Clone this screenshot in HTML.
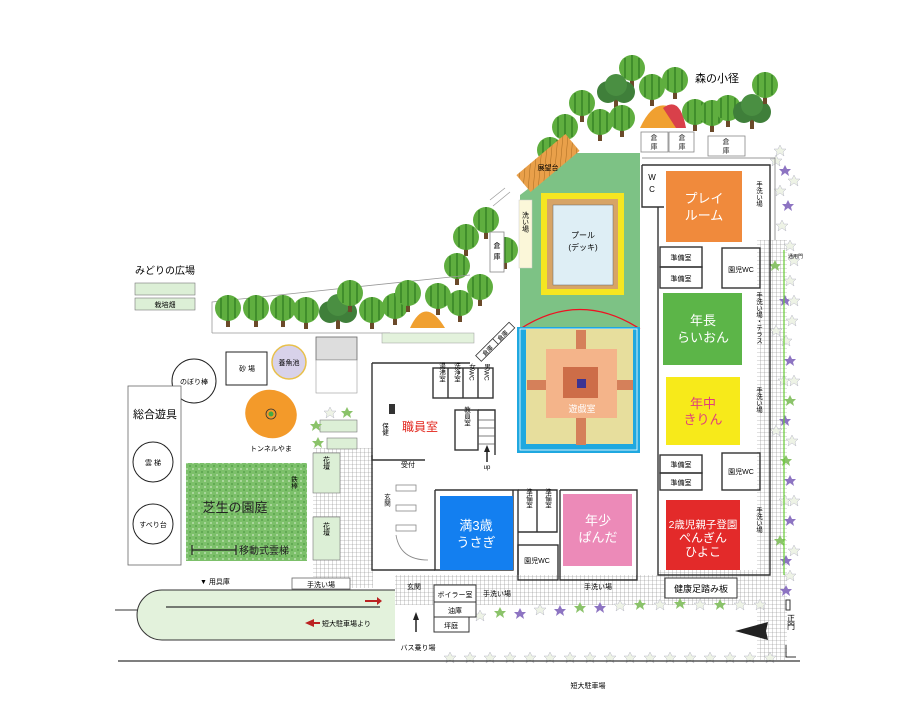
<!DOCTYPE html>
<html><head><meta charset="utf-8"><style>
html,body{margin:0;padding:0;background:#fff}
svg{display:block}
text{font-family:"Liberation Sans","Noto Sans CJK JP",sans-serif;}
</style></head><body>
<svg width="900" height="719" viewBox="0 0 900 719" xmlns="http://www.w3.org/2000/svg">
<defs>
<pattern id="grid" width="4" height="4" patternUnits="userSpaceOnUse"><rect width="4" height="4" fill="#fff"/><path d="M0 0H4M0 0V4" stroke="#888" stroke-width="0.6"/></pattern>
<pattern id="lawn" width="6" height="6" patternUnits="userSpaceOnUse"><rect width="6" height="6" fill="#7cc06a"/><circle cx="1" cy="1" r="0.9" fill="#c9e7bf"/><circle cx="4" cy="4" r="0.9" fill="#4f9a44"/></pattern>
<pattern id="deck" width="5" height="5" patternUnits="userSpaceOnUse" patternTransform="rotate(45)"><rect width="5" height="5" fill="#e9a04a"/><path d="M0 0V5" stroke="#a86a20" stroke-width="1"/></pattern>
<g id="tree"><rect x="-2" y="4" width="4" height="15" fill="#6b4a2a"/><circle r="13" fill="#5fae3f"/><path d="M-7 -10V10M0 -13V13M7 -10V10" stroke="#3e8a2a" stroke-width="1.8"/></g>
<g id="bush"><rect x="-2" y="4" width="4" height="13" fill="#6b4a2a"/><circle cx="-8" r="11" fill="#3f7f3a"/><circle cx="8" r="11" fill="#3f7f3a"/><circle cy="-7" r="11" fill="#4a8f42"/></g>
<g id="leaf"><polygon points="0,-5 2,-1 6,-1 3,2 4,6 0,3 -4,6 -3,2 -6,-1 -2,-1" fill="#eef3e6" stroke="#aab" stroke-width="0.4"/></g>
<g id="leafp"><polygon points="0,-5 2,-1 6,-1 3,2 4,6 0,3 -4,6 -3,2 -6,-1 -2,-1" fill="#8d74c2"/></g>
<g id="leafg"><polygon points="0,-5 2,-1 6,-1 3,2 4,6 0,3 -4,6 -3,2 -6,-1 -2,-1" fill="#8bc36a"/></g>
</defs>

<rect x="757" y="240" width="30" height="420" fill="url(#grid)"/>
<rect x="395" y="575" width="390" height="30" fill="url(#grid)"/>
<rect x="313" y="448" width="60" height="140" fill="url(#grid)"/>
<rect x="658" y="570" width="100" height="35" fill="url(#grid)"/>

<g>
<use href="#leaf" x="780" y="150"/><use href="#leafp" x="785" y="170"/><use href="#leaf" x="780" y="190"/><use href="#leafp" x="788" y="205"/><use href="#leaf" x="782" y="225"/><use href="#leaf" x="790" y="245"/><use href="#leafg" x="775" y="265"/><use href="#leaf" x="790" y="280"/><use href="#leafp" x="785" y="300"/><use href="#leaf" x="792" y="320"/><use href="#leaf" x="786" y="340"/><use href="#leafp" x="790" y="360"/><use href="#leaf" x="784" y="380"/><use href="#leafg" x="790" y="400"/><use href="#leafp" x="785" y="420"/><use href="#leaf" x="792" y="440"/><use href="#leafg" x="786" y="460"/><use href="#leafp" x="790" y="480"/><use href="#leaf" x="785" y="500"/><use href="#leafp" x="790" y="520"/><use href="#leafg" x="780" y="540"/><use href="#leafp" x="786" y="560"/><use href="#leaf" x="790" y="575"/><use href="#leafp" x="786" y="590"/>
<use href="#leaf" x="776" y="160"/><use href="#leaf" x="794" y="180"/><use href="#leaf" x="794" y="260"/><use href="#leaf" x="794" y="300"/><use href="#leaf" x="776" y="330"/><use href="#leaf" x="794" y="380"/><use href="#leaf" x="776" y="430"/><use href="#leaf" x="794" y="500"/><use href="#leaf" x="794" y="550"/>
</g>
<line x1="784" y1="250" x2="784" y2="575" stroke="#6c3" stroke-width="1.2"/>
<g>
<use href="#leafg" x="460" y="618"/><use href="#leaf" x="480" y="615"/><use href="#leafg" x="500" y="612"/><use href="#leafp" x="520" y="613"/><use href="#leaf" x="540" y="609"/><use href="#leafp" x="560" y="610"/><use href="#leafg" x="580" y="607"/><use href="#leafp" x="600" y="607"/><use href="#leaf" x="620" y="605"/><use href="#leafg" x="640" y="604"/><use href="#leaf" x="660" y="604"/><use href="#leafg" x="680" y="603"/><use href="#leaf" x="700" y="604"/><use href="#leafg" x="720" y="604"/><use href="#leaf" x="740" y="604"/><use href="#leaf" x="760" y="604"/>
</g>
<g>
<use href="#leaf" x="450" y="657"/><use href="#leaf" x="470" y="657"/><use href="#leaf" x="490" y="657"/><use href="#leaf" x="510" y="657"/><use href="#leaf" x="530" y="657"/><use href="#leaf" x="550" y="657"/><use href="#leaf" x="570" y="657"/><use href="#leaf" x="590" y="657"/><use href="#leaf" x="610" y="657"/><use href="#leaf" x="630" y="657"/><use href="#leaf" x="650" y="657"/><use href="#leaf" x="670" y="657"/><use href="#leaf" x="690" y="657"/><use href="#leaf" x="710" y="657"/><use href="#leaf" x="730" y="657"/><use href="#leaf" x="750" y="657"/><use href="#leaf" x="770" y="657"/>
</g>
<line x1="118" y1="661" x2="800" y2="661" stroke="#333" stroke-width="1.2"/>
<polygon points="735,631 768,622 766,631 768,640" fill="#222"/>
<path d="M786 600h4v10h-4z" fill="none" stroke="#333"/><path d="M786 645v12h10" fill="none" stroke="#333"/>
<text x="791" y="614" font-size="8" writing-mode="tb">正門</text>

<!-- top trees -->
<use href="#tree" x="632" y="68"/><use href="#bush" x="616" y="92"/><use href="#tree" x="652" y="87"/><use href="#tree" x="675" y="80"/>
<use href="#tree" x="582" y="103"/><use href="#tree" x="600" y="122"/><use href="#tree" x="622" y="118"/><use href="#tree" x="565" y="127"/><use href="#tree" x="550" y="150"/>
<path d="M640 128 Q655 95 675 110 L686 128 Z" fill="#f0a030"/><path d="M663 108 Q680 95 686 128 L676 128Z" fill="#d9404a"/>
<use href="#tree" x="695" y="112"/><use href="#tree" x="712" y="113"/><use href="#tree" x="728" y="108"/><use href="#bush" x="752" y="112"/><use href="#tree" x="765" y="85"/>
<text x="695" y="82" font-size="11">森の小径</text>
<g fill="#fff" stroke="#888" stroke-width="0.8"><rect x="641" y="132" width="27" height="20"/><rect x="669" y="132" width="25" height="20"/><rect x="708" y="136" width="37" height="20"/></g>
<g font-size="7" fill="#333" text-anchor="middle"><text x="654" y="140">倉</text><text x="654" y="149">庫</text><text x="682" y="140">倉</text><text x="682" y="149">庫</text><text x="726" y="144">倉</text><text x="726" y="153">庫</text></g>
<path d="M642 158H775V240" fill="none" stroke="#999" stroke-width="1"/>

<use href="#tree" x="486" y="220"/><use href="#tree" x="466" y="237"/><use href="#tree" x="480" y="287"/><use href="#tree" x="457" y="266"/><use href="#tree" x="505" y="250"/>
<line x1="490" y1="200" x2="505" y2="188" stroke="#999" stroke-width="0.7"/><line x1="493" y1="206" x2="510" y2="192" stroke="#999" stroke-width="0.7"/>
<rect x="490" y="232" width="14" height="40" fill="#fff" stroke="#888" stroke-width="0.8"/>
<text x="497" y="248" font-size="7" text-anchor="middle">倉</text><text x="497" y="259" font-size="7" text-anchor="middle">庫</text>

<polygon points="520,195 575,153 640,153 640,330 520,330" fill="#7dc285"/>
<rect x="516" y="152" width="64" height="22" fill="url(#deck)" transform="rotate(-40 548 163)"/>
<text x="548" y="170" font-size="7" text-anchor="middle">展望台</text>
<rect x="519" y="200" width="13" height="68" fill="#fbf7d9" stroke="#ccc" stroke-width="0.5"/>
<text x="525" y="222" font-size="7" text-anchor="middle" writing-mode="tb">洗い場</text>
<rect x="541" y="193" width="83" height="102" fill="#f5e621"/>
<rect x="547" y="199" width="71" height="90" fill="#d7a466"/>
<rect x="553" y="205" width="60" height="80" fill="#deeef5" stroke="#666" stroke-width="0.5"/>
<text x="583" y="238" font-size="8" text-anchor="middle">プール</text><text x="583" y="250" font-size="8" text-anchor="middle">(デッキ)</text>
<path d="M520 329 Q580 290 640 329" fill="none" stroke="#e12" stroke-width="1.2"/>

<rect x="517" y="327" width="123" height="126" fill="#1fa8e0"/>
<rect x="520" y="329" width="117" height="121" fill="none" stroke="#fff" stroke-width="0.8"/>
<rect x="526" y="329" width="107" height="115" fill="#e7de9d"/>
<rect x="576" y="330" width="10" height="115" fill="#d5805a"/>
<rect x="527" y="380" width="106" height="10" fill="#d5805a"/>
<rect x="546" y="349" width="71" height="69" fill="#f4b48a"/>
<rect x="563" y="367" width="35" height="31" fill="#cd6d48"/>
<rect x="577" y="379" width="9" height="9" fill="#3b3392"/>
<text x="582" y="412" font-size="9" fill="#fff" text-anchor="middle">遊戯室</text>
<g transform="rotate(-45 502 335)"><rect x="488" y="331" width="28" height="8" fill="#fff" stroke="#333" stroke-width="0.8"/><text x="502" y="338" font-size="6" text-anchor="middle">倉庫</text></g>
<g transform="rotate(-45 487 350)"><rect x="475" y="346" width="24" height="8" fill="#fff" stroke="#333" stroke-width="0.8"/><text x="487" y="353" font-size="6" text-anchor="middle">倉庫</text></g>

<g fill="none" stroke="#333" stroke-width="1.4">
<path d="M642 165H770V490"/><path d="M642 165V207H664"/><path d="M658 207V575H770V490"/>
<rect x="660" y="247" width="42" height="20"/><rect x="660" y="267" width="42" height="21"/><rect x="722" y="248" width="38" height="40"/>
<rect x="660" y="455" width="42" height="18"/><rect x="660" y="473" width="42" height="17"/><rect x="722" y="453" width="38" height="37"/>
</g>
<rect x="643" y="166" width="21" height="40" fill="#fff"/>
<text x="652" y="180" font-size="8" text-anchor="middle">W</text><text x="652" y="192" font-size="8" text-anchor="middle">C</text>
<rect x="666" y="171" width="76" height="71" fill="#f08a3c"/>
<text x="704" y="203" font-size="13" fill="#fff" text-anchor="middle">プレイ</text><text x="704" y="220" font-size="13" fill="#fff" text-anchor="middle">ルーム</text>
<g font-size="7" text-anchor="middle"><text x="681" y="260">準備室</text><text x="681" y="281">準備室</text><text x="741" y="272">園児WC</text>
<text x="681" y="467">準備室</text><text x="681" y="485">準備室</text><text x="741" y="474">園児WC</text></g>
<rect x="663" y="293" width="79" height="72" fill="#5cb548"/>
<text x="703" y="325" font-size="13" fill="#fff" text-anchor="middle">年長</text><text x="703" y="342" font-size="13" fill="#fff" text-anchor="middle">らいおん</text>
<rect x="666" y="377" width="74" height="68" fill="#f7ea1a"/>
<text x="703" y="408" font-size="13" fill="#e0407a" text-anchor="middle">年中</text><text x="703" y="424" font-size="13" fill="#e0407a" text-anchor="middle">きりん</text>
<rect x="666" y="500" width="74" height="70" fill="#e32a2a"/>
<text x="703" y="528" font-size="10.5" fill="#fff" text-anchor="middle">2歳児親子登園</text><text x="703" y="542" font-size="12" fill="#fff" text-anchor="middle">ぺんぎん</text><text x="703" y="556" font-size="12" fill="#fff" text-anchor="middle">ひよこ</text>
<rect x="665" y="578" width="72" height="20" fill="#fff" stroke="#333" stroke-width="1"/>
<text x="701" y="592" font-size="9" text-anchor="middle">健康足踏み板</text>
<g font-size="6.5" text-anchor="middle" writing-mode="tb"><text x="758" y="194">手洗い場</text><text x="758" y="318">手洗い場・テラス</text><text x="758" y="400">手洗い場</text><text x="758" y="520">手洗い場</text></g>
<text x="788" y="258" font-size="5">通用門</text>

<g fill="none" stroke="#333" stroke-width="1.4">
<path d="M372 363H470"/><path d="M372 363V460H425"/><path d="M372 455V570H435"/>
<rect x="433" y="368" width="60" height="30"/><path d="M448 368V398M463 368V398M478 368V398"/>
<rect x="455" y="410" width="23" height="40"/><path d="M478 410H495V455"/>
<path d="M435 490H518V575"/><path d="M513 490V570H435V490"/>
<path d="M518 490H557V532H518M537 490V532"/><rect x="518" y="545" width="40" height="35"/>
<path d="M560 490H637V580H560V490"/>
</g>
<g stroke="#555" stroke-width="0.8" fill="none"><path d="M478 420H495M478 428H495M478 436H495M478 444H495"/></g>
<path d="M487 462V450" stroke="#222" stroke-width="1.5"/><polygon points="484,452 487,445 490,452" fill="#222"/>
<text x="487" y="469" font-size="6" text-anchor="middle">up</text>
<g font-size="6.5" text-anchor="middle" writing-mode="tb"><text x="441" y="372">湯沸室</text><text x="456" y="372">洗浄室</text><text x="471" y="372">女WC</text><text x="486" y="372">男WC</text><text x="466" y="416">教員室</text><text x="384" y="429">保健</text><text x="386" y="500">玄関</text><text x="528" y="498">準備室</text><text x="547" y="498">準備室</text></g>
<text x="420" y="431" font-size="12" fill="#e2231a" text-anchor="middle">職員室</text>
<rect x="389" y="404" width="6" height="10" fill="#333"/>
<text x="408" y="467" font-size="7" text-anchor="middle">受付</text>
<g fill="#fff" stroke="#888" stroke-width="0.8"><rect x="396" y="485" width="20" height="6"/><rect x="396" y="505" width="20" height="6"/><rect x="396" y="525" width="20" height="6"/></g>
<path d="M396 535 Q400 560 428 560" fill="none" stroke="#888" stroke-width="0.8"/>
<rect x="440" y="496" width="73" height="74" fill="#137ff0"/>
<text x="476" y="530" font-size="13" fill="#fff" text-anchor="middle">満3歳</text><text x="476" y="547" font-size="13" fill="#fff" text-anchor="middle">うさぎ</text>
<text x="537" y="563" font-size="7" text-anchor="middle">園児WC</text>
<rect x="563" y="494" width="69" height="72" fill="#ec8ab8"/>
<text x="598" y="525" font-size="13" fill="#fff" text-anchor="middle">年少</text><text x="598" y="542" font-size="13" fill="#fff" text-anchor="middle">ぱんだ</text>
<text x="598" y="589" font-size="7" text-anchor="middle">手洗い場</text>
<g fill="#fff" stroke="#333" stroke-width="1"><rect x="434" y="585" width="42" height="17"/><rect x="434" y="602" width="42" height="15"/><rect x="434" y="617" width="35" height="15"/></g>
<g font-size="7" text-anchor="middle"><text x="455" y="597">ボイラー室</text><text x="455" y="613">油庫</text><text x="451" y="628">坪庭</text><text x="497" y="596">手洗い場</text><text x="414" y="589">玄関</text><text x="418" y="650">バス乗り場</text></g>
<path d="M416 632V618" stroke="#222" stroke-width="1.5"/><polygon points="413,620 416,612 419,620" fill="#222"/>

<path d="M395 590H162A25 25 0 0 0 162 640H395" fill="#e3f2dc" stroke="#333" stroke-width="1"/>
<line x1="115" y1="610" x2="137" y2="610" stroke="#333"/>
<line x1="166" y1="607" x2="380" y2="607" stroke="#333" stroke-width="1.2"/>
<polygon points="365,600 377,600 377,597 382,601 377,605 377,602 365,602" fill="#b22"/>
<polygon points="305,623 314,619 314,622 320,622 320,624 314,624 314,627" fill="#b22"/>
<text x="322" y="626" font-size="7">短大駐車場より</text>
<text x="200" y="584" font-size="7">▼ 用具庫</text>
<rect x="292" y="578" width="58" height="11" fill="#fff" stroke="#666" stroke-width="0.8"/>
<text x="321" y="587" font-size="7" text-anchor="middle">手洗い場</text>
<text x="588" y="688" font-size="7" text-anchor="middle">短大駐車場</text>

<text x="135" y="274" font-size="10">みどりの広場</text>
<rect x="135" y="283" width="60" height="12" fill="#dcefd6" stroke="#777" stroke-width="0.6"/>
<rect x="135" y="298" width="60" height="12" fill="#dcefd6" stroke="#777" stroke-width="0.6"/>
<text x="165" y="307" font-size="7" text-anchor="middle">栽培畑</text>
<path d="M212 333V302L470 275" fill="none" stroke="#999" stroke-width="0.8"/>
<line x1="212" y1="333" x2="390" y2="333" stroke="#999" stroke-width="0.8"/>
<use href="#tree" x="228" y="308"/><use href="#tree" x="256" y="308"/><use href="#tree" x="283" y="308"/><use href="#tree" x="306" y="310"/><use href="#bush" x="338" y="312"/><use href="#tree" x="372" y="310"/><use href="#tree" x="350" y="293"/><use href="#tree" x="395" y="306"/><use href="#tree" x="408" y="293"/><use href="#tree" x="438" y="296"/><use href="#tree" x="460" y="303"/>
<path d="M410 328 Q425 295 445 328Z" fill="#f0a030"/>
<rect x="382" y="333" width="92" height="10" fill="#e3f2dc" stroke="#999" stroke-width="0.5"/>
<rect x="316" y="337" width="41" height="23" fill="#ddd" stroke="#666" stroke-width="0.8"/>
<rect x="316" y="360" width="41" height="33" fill="#fff" stroke="#999" stroke-width="0.6"/>
<circle cx="194" cy="381" r="22" fill="#fff" stroke="#222" stroke-width="1"/>
<text x="194" y="384" font-size="7" text-anchor="middle">のぼり棒</text>
<rect x="226" y="352" width="41" height="33" fill="#fff" stroke="#222" stroke-width="1"/>
<text x="247" y="371" font-size="7" text-anchor="middle">砂 場</text>
<circle cx="289" cy="362" r="17" fill="#d8d2ea" stroke="#e8c04a" stroke-width="1.5"/>
<text x="289" y="365" font-size="7" text-anchor="middle">養魚池</text>
<rect x="128" y="386" width="53" height="179" fill="#fff" stroke="#666" stroke-width="0.8"/>
<text x="155" y="418" font-size="11" text-anchor="middle">総合遊具</text>
<circle cx="153" cy="462" r="20" fill="#fff" stroke="#222"/><text x="153" y="465" font-size="7" text-anchor="middle">雲 梯</text>
<circle cx="153" cy="524" r="20" fill="#fff" stroke="#222"/><text x="153" y="527" font-size="7" text-anchor="middle">すべり台</text>
<g transform="rotate(20 271 414)"><ellipse cx="271" cy="414" rx="26" ry="24" fill="#f39a2a"/></g>
<circle cx="271" cy="414" r="5" fill="none" stroke="#333" stroke-width="0.8"/><circle cx="271" cy="414" r="2.5" fill="#4a4"/>
<text x="271" y="451" font-size="7" text-anchor="middle">トンネルやま</text>
<rect x="186" y="463" width="121" height="98" fill="url(#lawn)"/>
<text x="235" y="512" font-size="13" text-anchor="middle" fill="#222">芝生の園庭</text>
<text x="293" y="476" font-size="6.5" writing-mode="tb">鉄棒</text>
<path d="M192 545V555M192 550H236M236 545V555" stroke="#222" stroke-width="1.2" fill="none"/>
<text x="239" y="554" font-size="10" fill="#222">移動式雲梯</text>
<rect x="313" y="453" width="27" height="40" fill="#dcefd6" stroke="#777" stroke-width="0.6"/>
<rect x="313" y="517" width="27" height="43" fill="#dcefd6" stroke="#777" stroke-width="0.6"/>
<g font-size="7" text-anchor="middle" writing-mode="tb"><text x="326" y="463">花壇</text><text x="326" y="529">花壇</text></g>
<rect x="320" y="420" width="37" height="12" fill="#dcefd6" stroke="#777" stroke-width="0.6"/>
<rect x="327" y="438" width="30" height="11" fill="#dcefd6" stroke="#777" stroke-width="0.6"/>
<use href="#leafg" x="316" y="425"/><use href="#leaf" x="330" y="412"/><use href="#leafg" x="347" y="412"/><use href="#leafg" x="318" y="442"/>
</svg>
</body></html>
